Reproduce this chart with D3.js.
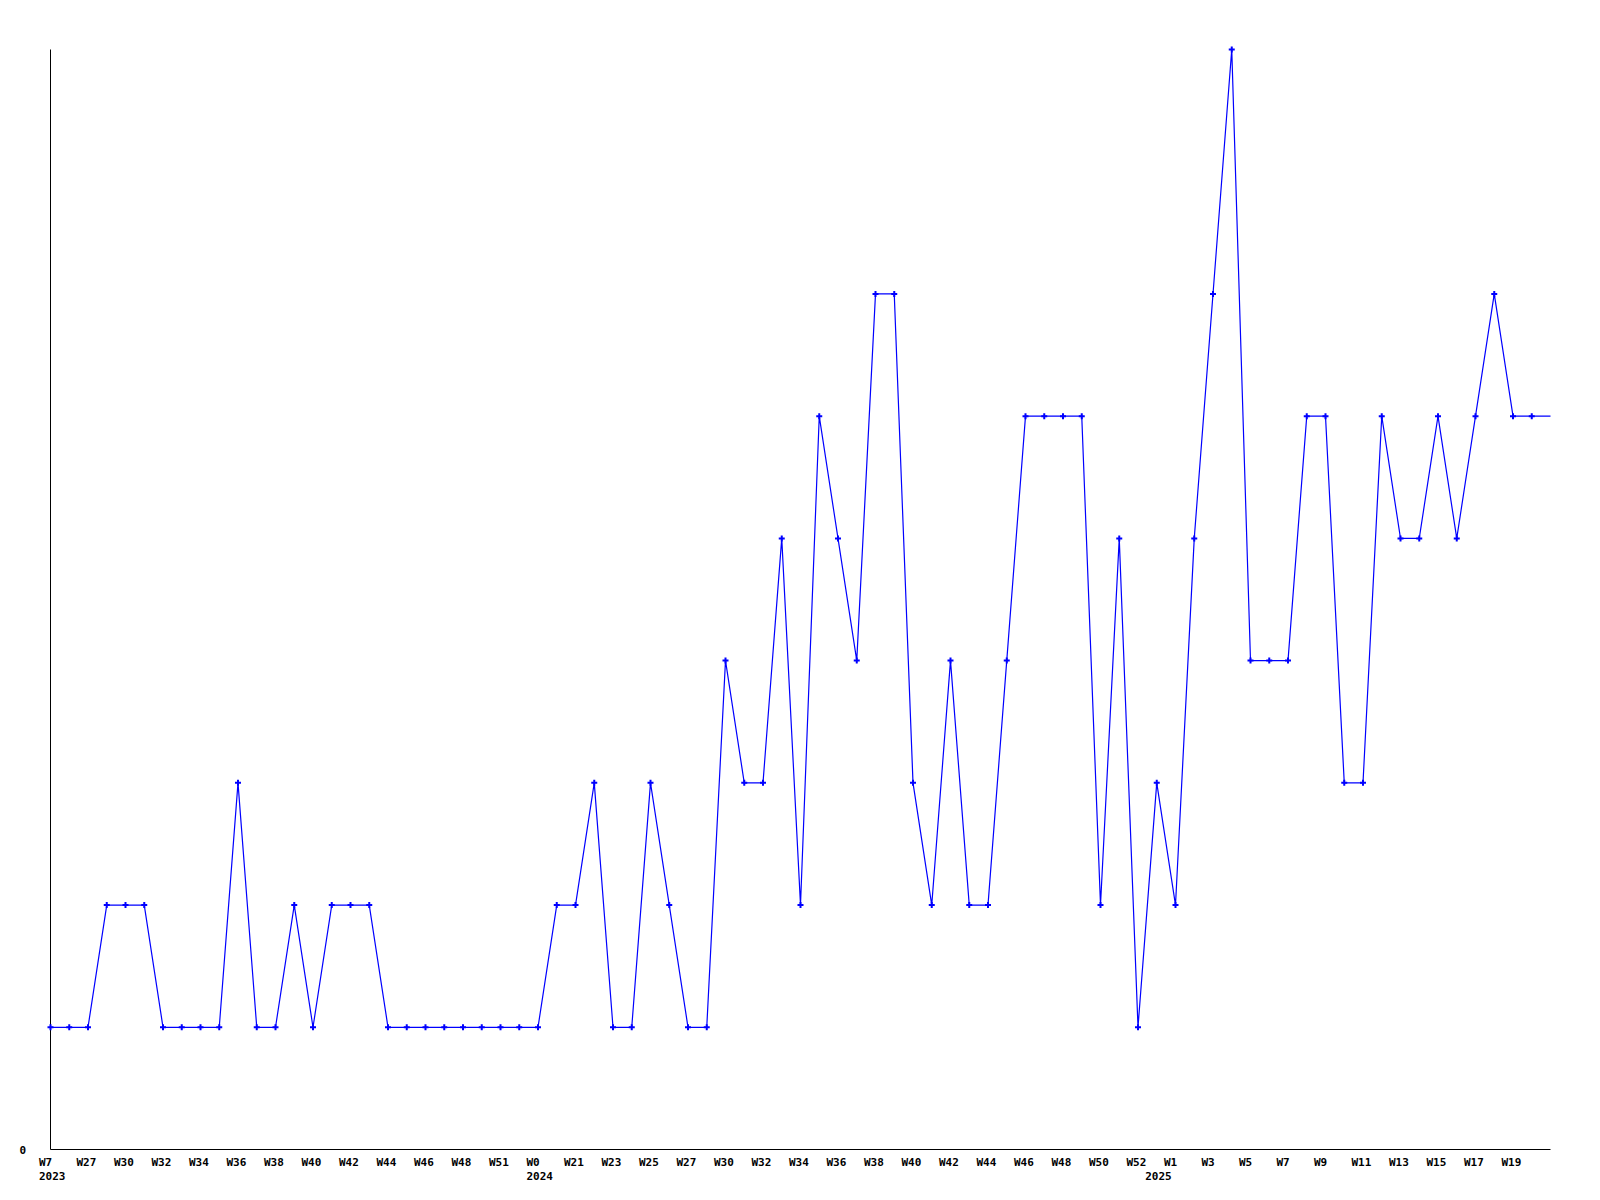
<!DOCTYPE html>
<html>
<head>
<meta charset="utf-8">
<script src="https://cdn.jsdelivr.net/npm/d3@7"></script>
<style>
  html, body { margin: 0; padding: 0; background: #ffffff; }
  svg { display: block; }
  text { font-family: "DejaVu Sans Mono", "Liberation Mono", monospace; font-weight: bold; font-size: 11px; fill: #000; }
</style>
</head>
<body>
<svg id="chart" width="1600" height="1200"></svg>
<script>
// ---- data ----
const years = ["2023","2023","2023","2023","2023","2023","2023","2023","2023","2023",
  "2023","2023","2023","2023","2023","2023","2023","2023","2023","2023",
  "2023","2023","2023","2023","2023","2023",
  "2024","2024","2024","2024","2024","2024","2024","2024","2024","2024",
  "2024","2024","2024","2024","2024","2024","2024","2024","2024","2024",
  "2024","2024","2024","2024","2024","2024","2024","2024","2024","2024",
  "2024","2024","2024",
  "2025","2025","2025","2025","2025","2025","2025","2025","2025","2025",
  "2025","2025","2025","2025","2025","2025","2025","2025","2025","2025",
  "2025","2025"];
const weeks = ["W7","W26","W27","W28","W30","W31","W32","W33","W34","W35",
  "W36","W37","W38","W39","W40","W41","W42","W43","W44","W45",
  "W46","W47","W48","W50","W51","W52",
  "W0","W20","W21","W22","W23","W24","W25","W26","W27","W29",
  "W30","W31","W32","W33","W34","W35","W36","W37","W38","W39",
  "W40","W41","W42","W43","W44","W45","W46","W47","W48","W49",
  "W50","W51","W52",
  "W0","W1","W2","W3","W4","W5","W6","W7","W8","W9",
  "W10","W11","W12","W13","W14","W15","W16","W17","W18","W19",
  "W20","W21"];
const values = [1,1,1,2,2,2,1,1,1,1,
  3,1,1,2,1,2,2,2,1,1,
  1,1,1,1,1,1,1,2,2,3,
  1,1,3,2,1,1,4,3,3,5,
  2,6,5,4,7,7,3,2,4,2,
  2,4,6,6,6,6,2,5,1,3,
  2,5,7,9,4,4,4,6,6,3,
  3,6,5,5,6,5,6,7,6,6,
  6];
// last entry is the current (incomplete) week: drawn in the line, no marker / label
const yTicks = [0];
const yMax = 9;

// ---- layout ----
const mLeft = 50.5, mRight = 1550.5, mTop = 49.5, mBottom = 1149.5;
const keys = weeks.map((w, i) => years[i] + "-" + w);
const data = keys.map((k, i) => ({ key: k, year: years[i], week: weeks[i], value: values[i], i }));
const complete = data.slice(0, data.length - 1);

const x = d3.scalePoint().domain(keys).range([mLeft, mRight]);
const y = d3.scaleLinear().domain([0, yMax]).range([mBottom, mTop]);

const svg = d3.select("#chart");

// axes lines
svg.append("line").attr("x1", mLeft).attr("x2", mLeft).attr("y1", y(yMax)).attr("y2", y(0))
  .attr("stroke", "#000").attr("stroke-width", 1);
svg.append("line").attr("x1", mLeft).attr("x2", mRight).attr("y1", y(0)).attr("y2", y(0))
  .attr("stroke", "#000").attr("stroke-width", 1);

// y tick labels
svg.append("g").selectAll("text").data(yTicks).join("text")
  .attr("x", mLeft - 24.5).attr("y", d => y(d) + 4.5)
  .attr("text-anchor", "end").text(d => d);

// x tick labels (every other complete week)
const tickData = complete.filter(d => d.i % 2 === 0);
svg.append("g").selectAll("text").data(tickData).join("text")
  .attr("x", d => x(d.key) - 11.5).attr("y", d => y(0) + 16.5)
  .text(d => d.week);

// year labels at first week of each year
const firstOfYear = complete.filter((d, i) => i === 0 || complete[i - 1].year !== d.year);
svg.append("g").selectAll("text").data(firstOfYear).join("text")
  .attr("x", d => x(d.key) - 11.5).attr("y", d => y(0) + 30)
  .text(d => d.year);

// line
const line = d3.line().x(d => x(d.key)).y(d => y(d.value));
svg.append("path").datum(data).attr("d", line)
  .attr("fill", "none").attr("stroke", "#0000ff").attr("stroke-width", 1.2);

// markers
const sym = d3.symbol().type(d3.symbolCross).size(20);
svg.append("g").selectAll("path").data(complete).join("path")
  .attr("transform", d => `translate(${x(d.key)},${y(d.value)})`)
  .attr("d", sym).attr("fill", "#0000ff");
</script>
</body>
</html>
